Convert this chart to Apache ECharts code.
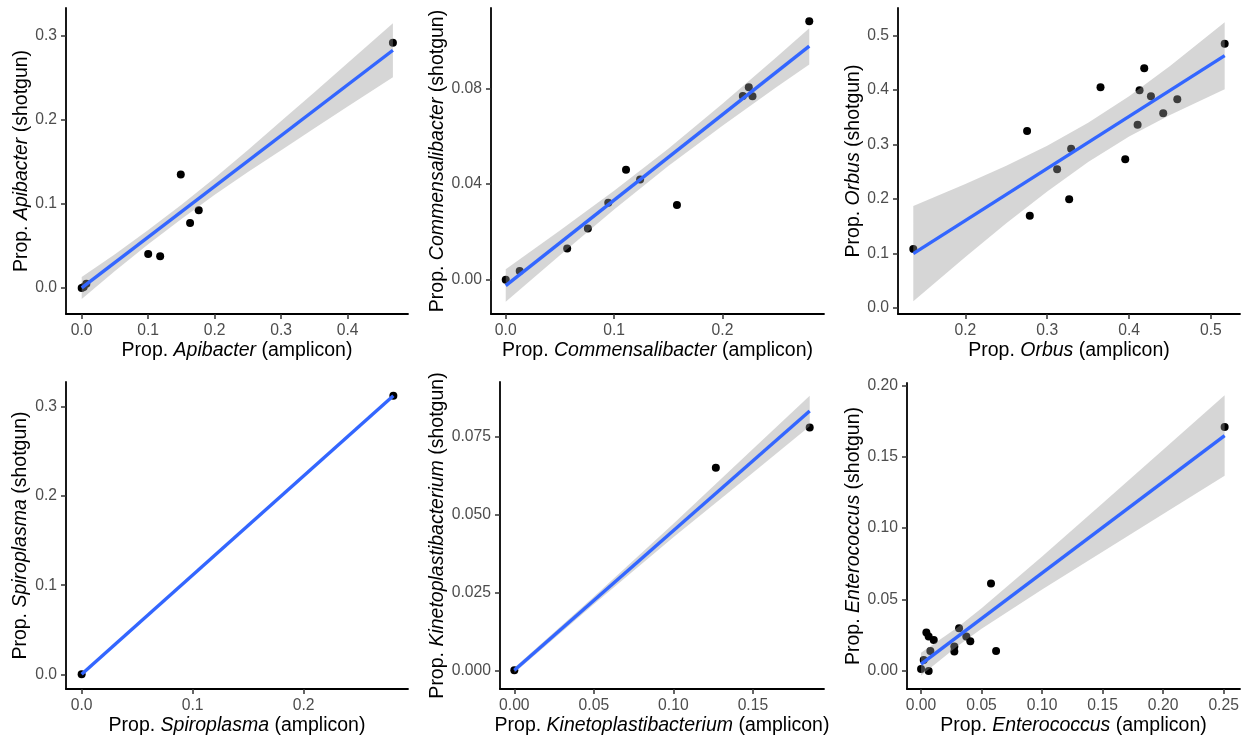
<!DOCTYPE html>
<html>
<head>
<meta charset="utf-8">
<script src="https://cdn.jsdelivr.net/npm/echarts@6/dist/echarts.min.js"></script>
<style>
  html, body { margin: 0; padding: 0; background: #fff; }
  #main { width: 1243px; height: 737px; }
</style>
</head>
<body>
<div id="main"></div>
<script>
// values (amplicon = x, shotgun = y)

// Apibacter
const apiX = [0, 0.003, 0.007, 0.100, 0.118, 0.149, 0.163, 0.176, 0.468];
const apiY = [0, 0.001, 0.005, 0.0405, 0.0377, 0.135, 0.0774, 0.0925, 0.292];
const apiFitX = [0, 0.468];
const apiFitY = [0, 0.283];
const apiBandX = [0, 0.05, 0.1, 0.15, 0.2, 0.25, 0.3, 0.35, 0.4, 0.468];
const apiBandLo = [-0.013, 0.0202, 0.052, 0.0822, 0.1109, 0.1382, 0.1639, 0.1901, 0.2159, 0.251];
const apiBandHi = [0.013, 0.0402, 0.069, 0.0992, 0.1309, 0.1642, 0.1989, 0.2331, 0.2679, 0.315];

// Commensalibacter
const comX = [0, 0.0129, 0.0567, 0.0758, 0.0946, 0.111, 0.124, 0.158, 0.2188, 0.2243, 0.2277, 0.2801];
const comY = [0, 0.0036, 0.0130, 0.0214, 0.0322, 0.046, 0.042, 0.0313, 0.0769, 0.0806, 0.0768, 0.1083];
const comFitX = [0, 0.2801];
const comFitY = [-0.0025, 0.0978];
const comBandX = [0, 0.05, 0.1, 0.15, 0.2, 0.25, 0.2801];
const comBandLo = [-0.0093, 0.0102, 0.0294, 0.0476, 0.0645, 0.0807, 0.0901];
const comBandHi = [0.0043, 0.0206, 0.0372, 0.0548, 0.0737, 0.0933, 0.1053];

// Orbus
const orbX = [0.1364, 0.2754, 0.2787, 0.3121, 0.3268, 0.3292, 0.3651, 0.3953, 0.4104, 0.4128, 0.4185, 0.4267, 0.4417, 0.4589, 0.5168];
const orbY = [0.1083, 0.325, 0.1695, 0.2546, 0.1995, 0.2925, 0.4051, 0.2729, 0.3366, 0.3996, 0.4400, 0.3886, 0.3574, 0.3831, 0.4853];
const orbFitX = [0.1364, 0.5168];
const orbFitY = [0.0998, 0.4633];
const orbBandX = [0.1364, 0.2, 0.25, 0.3, 0.35, 0.4, 0.45, 0.5168];
const orbBandLo = [0.0123, 0.0936, 0.1554, 0.2141, 0.2679, 0.3147, 0.3545, 0.4018];
const orbBandHi = [0.1873, 0.2276, 0.2614, 0.2981, 0.3399, 0.3887, 0.4445, 0.5248];

// Spiroplasma
const spiX = [0, 0.2809];
const spiY = [0, 0.3127];
const spiFitX = [0, 0.2809];
const spiFitY = [0, 0.3127];

// Kinetoplastibacterium
const kinX = [0, 0.1267, 0.1857];
const kinY = [0, 0.0649, 0.0778];
const kinFitX = [0, 0.1857];
const kinFitY = [0, 0.0831];
const kinBandX = [0, 0.05, 0.1, 0.15, 0.1857];
const kinBandLo = [-0.0008, 0.0212, 0.0426, 0.0633, 0.0782];
const kinBandHi = [0.0008, 0.0236, 0.0470, 0.0709, 0.0880];

// Enterococcus
const entX = [0, 0.0022, 0.0063, 0.0044, 0.0063, 0.0105, 0.0077, 0.0275, 0.0275, 0.0314, 0.0374, 0.0407, 0.0578, 0.0620, 0.2508];
const entY = [0.0014, 0.0077, 0.0, 0.0269, 0.0241, 0.0217, 0.0140, 0.0171, 0.0136, 0.0299, 0.0241, 0.0208, 0.0612, 0.0140, 0.1708];
const entFitX = [0, 0.2508];
const entFitY = [0.0048, 0.1648];
const entBandX = [0, 0.03, 0.05, 0.1, 0.15, 0.2, 0.2508];
const entBandLo = [-0.0032, 0.0174, 0.0295, 0.0571, 0.0835, 0.1099, 0.1366];
const entBandHi = [0.0128, 0.0304, 0.0439, 0.0801, 0.1175, 0.1549, 0.1930];

// tick values and labels
const ticks1 = [0, 0.1, 0.2, 0.3, 0.4, 0.5];
const labels1 = ['0.0', '0.1', '0.2', '0.3', '0.4', '0.5'];
const ticksCom = [0, 0.04, 0.08];
const labelsCom = ['0.00', '0.04', '0.08'];
const ticks05 = [0, 0.05, 0.1, 0.15, 0.2, 0.25];
const labels05 = ['0.00', '0.05', '0.10', '0.15', '0.20', '0.25'];
const ticksKinY = [0, 0.025, 0.05, 0.075];
const labelsKinY = ['0.000', '0.025', '0.050', '0.075'];

const panels = [
  { genus: 'Apibacter', x: apiX, y: apiY, fitX: apiFitX, fitY: apiFitY,
    bandX: apiBandX, bandLo: apiBandLo, bandHi: apiBandHi,
    xMin: -0.0236, xMax: 0.4907, yMin: -0.031, yMax: 0.3333,
    xTicks: [0, 0.1, 0.2, 0.3, 0.4], xLabels: labels1, xT: ticks1,
    yTicks: [0, 0.1, 0.2, 0.3], yLabels: labels1, yT: ticks1 },
  { genus: 'Commensalibacter', x: comX, y: comY, fitX: comFitX, fitY: comFitY,
    bandX: comBandX, bandLo: comBandLo, bandHi: comBandHi,
    xMin: -0.0136, xMax: 0.2937, yMin: -0.0144, yMax: 0.1138,
    xTicks: [0, 0.1, 0.2], xLabels: labels1, xT: ticks1,
    yTicks: ticksCom, yLabels: labelsCom, yT: ticksCom },
  { genus: 'Orbus', x: orbX, y: orbY, fitX: orbFitX, fitY: orbFitY,
    bandX: orbBandX, bandLo: orbBandLo, bandHi: orbBandHi,
    xMin: 0.1177, xMax: 0.5355, yMin: -0.011, yMax: 0.5508,
    xTicks: [0.2, 0.3, 0.4, 0.5], xLabels: labels1, xT: ticks1,
    yTicks: [0, 0.1, 0.2, 0.3, 0.4, 0.5], yLabels: labels1, yT: ticks1 },
  { genus: 'Spiroplasma', x: spiX, y: spiY, fitX: spiFitX, fitY: spiFitY,
    bandX: null,
    xMin: -0.0141, xMax: 0.2941, yMin: -0.0165, yMax: 0.3281,
    xTicks: [0, 0.1, 0.2], xLabels: labels1, xT: ticks1,
    yTicks: [0, 0.1, 0.2, 0.3], yLabels: labels1, yT: ticks1 },
  { genus: 'Kinetoplastibacterium', x: kinX, y: kinY, fitX: kinFitX, fitY: kinFitY,
    bandX: kinBandX, bandLo: kinBandLo, bandHi: kinBandHi,
    xMin: -0.009, xMax: 0.1947, yMin: -0.006, yMax: 0.0924,
    xTicks: [0, 0.05, 0.1, 0.15], xLabels: labels05, xT: ticks05,
    yTicks: ticksKinY, yLabels: labelsKinY, yT: ticksKinY },
  { genus: 'Enterococcus', x: entX, y: entY, fitX: entFitX, fitY: entFitY,
    bandX: entBandX, bandLo: entBandLo, bandHi: entBandHi,
    xMin: -0.0116, xMax: 0.2635, yMin: -0.0126, yMax: 0.2016,
    xTicks: ticks05, xLabels: labels05, xT: ticks05,
    yTicks: [0, 0.05, 0.1, 0.15, 0.2], yLabels: labels05, yT: ticks05 }
];

// layout of the six panels (px)
const grids = [
  { left: 66, top: 8, width: 342, height: 306, yGap: 34 },
  { left: 491, top: 8, width: 333, height: 306, yGap: 43 },
  { left: 898, top: 8, width: 342, height: 306, yGap: 34 },
  { left: 66, top: 382, width: 342, height: 307, yGap: 35 },
  { left: 500, top: 382, width: 324, height: 307, yGap: 51 },
  { left: 907, top: 383, width: 333, height: 306, yGap: 43 }
];

const FONT = '"Liberation Sans", Arial, Helvetica, sans-serif';
const TICK_SIZE = 15.7;
const TITLE_SIZE = 19.5;

function labelFor(tickVals, labels) {
  return v => {
    const i = tickVals.findIndex(t => Math.abs(t - v) < 1e-9);
    return i >= 0 ? labels[i] : '';
  };
}

function axisCommon(min, max, ticks, tVals, tLabels) {
  return {
    type: 'value', min: min, max: max,
    splitLine: { show: false },
    axisLine: { show: true, onZero: false, lineStyle: { color: '#000', width: 1.8 } },
    axisTick: { show: true, length: 5, customValues: ticks, lineStyle: { color: '#333', width: 1.5 } },
    axisLabel: { show: true, customValues: ticks, color: '#4D4D4D', fontSize: TICK_SIZE,
                 fontFamily: FONT, formatter: labelFor(tVals, tLabels) },
    nameLocation: 'middle',
    nameTextStyle: {
      color: '#000', fontSize: TITLE_SIZE, fontFamily: FONT,
      rich: { i: { fontStyle: 'italic', color: '#000', fontSize: TITLE_SIZE, fontFamily: FONT } }
    }
  };
}

const option = { animation: false, backgroundColor: '#fff', grid: [], xAxis: [], yAxis: [], series: [] };

panels.forEach((p, k) => {
  const g = grids[k];
  option.grid.push({ left: g.left, top: g.top, width: g.width, height: g.height, outerBoundsMode: 'none' });
  const xa = axisCommon(p.xMin, p.xMax, p.xTicks, p.xT, p.xLabels);
  xa.gridIndex = k;
  xa.position = 'bottom';
  xa.name = 'Prop. {i|' + p.genus + '} (amplicon)';
  xa.nameGap = 27;
  xa.axisLabel.margin = 9;
  option.xAxis.push(xa);
  const ya = axisCommon(p.yMin, p.yMax, p.yTicks, p.yT, p.yLabels);
  ya.gridIndex = k;
  ya.position = 'left';
  ya.name = 'Prop. {i|' + p.genus + '} (shotgun)';
  ya.nameGap = g.yGap;
  ya.nameRotate = 90;
  ya.axisLabel.margin = 9;
  option.yAxis.push(ya);

  option.series.push({
    type: 'scatter', xAxisIndex: k, yAxisIndex: k, z: 2,
    symbolSize: 8, itemStyle: { color: '#000', opacity: 1 },
    data: p.x.map((v, i) => [v, p.y[i]])
  });

  if (p.bandX) {
    const rows = p.bandX.map((v, i) => [v, p.bandLo[i], p.bandHi[i]]);
    option.series.push({
      type: 'custom', xAxisIndex: k, yAxisIndex: k, z: 3, clip: true,
      data: [rows[0]],
      renderItem: (params, api) => {
        const upper = rows.map(r => api.coord([r[0], r[2]]));
        const lower = rows.slice().reverse().map(r => api.coord([r[0], r[1]]));
        return {
          type: 'polygon',
          shape: { points: upper.concat(lower) },
          style: { fill: 'rgba(153,153,153,0.4)' }
        };
      }
    });
  }

  option.series.push({
    type: 'line', xAxisIndex: k, yAxisIndex: k, z: 4,
    showSymbol: false, symbol: 'none',
    lineStyle: { color: '#3366FF', width: 3.4 },
    data: p.fitX.map((v, i) => [v, p.fitY[i]])
  });
});

const myChart = echarts.init(document.getElementById('main'));
myChart.setOption(option);
</script>
</body>
</html>
